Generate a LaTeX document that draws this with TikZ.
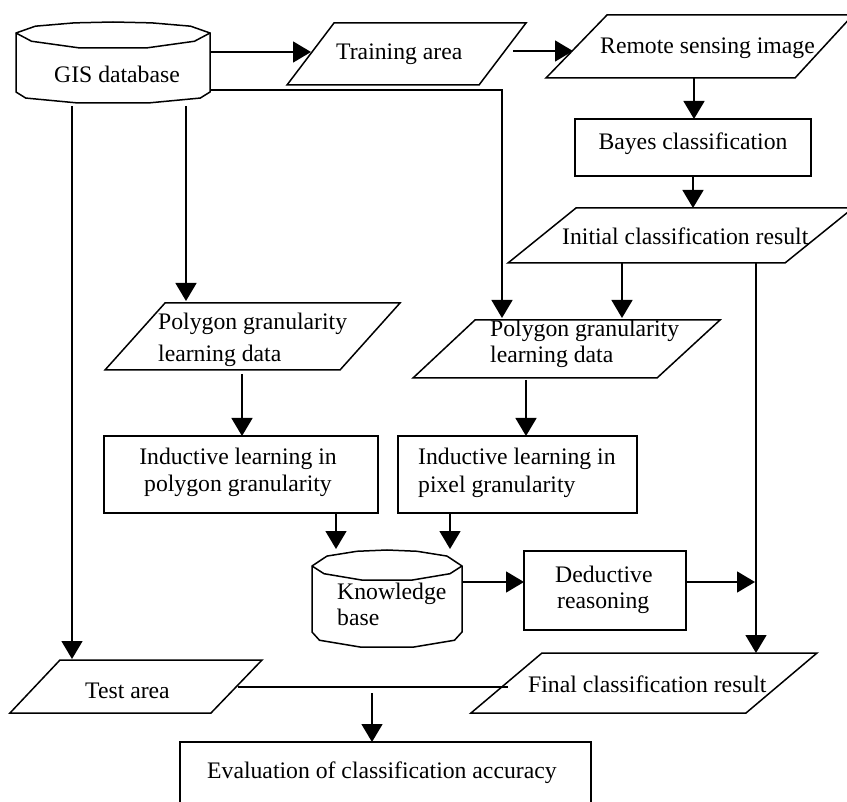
\documentclass[tikz,border=0pt]{standalone}
\usepackage{fontspec}
\setmainfont{Liberation Serif}
\usetikzlibrary{arrows.meta}
\tikzset{
  line/.style={line width=1.5pt, line join=miter},
  arr/.style={line width=1.5pt, -{Triangle[length=18pt,width=21pt]}},
  txt/.style={inner sep=0pt, anchor=base west, font=\fontsize{23.7}{28}\selectfont},
  ctxt/.style={inner sep=0pt, anchor=base, font=\fontsize{23.7}{28}\selectfont}
}
\newcommand\drawcyl[7]{%
  \pgfmathsetmacro\cylw{#2-#1}%
  \draw[line] (#1,#4) -- ({#1+0.1*\cylw},{#4-0.62*(#4-#3)}) -- ({#1+0.3*\cylw},{#4-0.92*(#4-#3)})
    -- ({#1+0.5*\cylw},#3) -- ({#1+0.7*\cylw},{#4-0.92*(#4-#3)})
    -- ({#1+0.9*\cylw},{#4-0.62*(#4-#3)}) -- (#2,#4) -- (#2,#6)
    -- ({#1+0.95*\cylw},{#6+0.55*(#7-#6)}) -- ({#1+0.68*\cylw},#7) -- ({#1+0.32*\cylw},#7)
    -- ({#1+0.05*\cylw},{#6+0.55*(#7-#6)}) -- (#1,#6) -- cycle;
  \draw[line] (#1,#4) -- ({#1+0.08*\cylw},{#4+0.55*(#5-#4)}) -- ({#1+0.33*\cylw},#5)
    -- ({#1+0.67*\cylw},#5) -- ({#1+0.92*\cylw},{#4+0.55*(#5-#4)}) -- (#2,#4);}
\begin{document}
\begin{tikzpicture}[x=1pt,y=-1pt]
\useasboundingbox (0,0) rectangle (847,802);
\clip (0,0) rectangle (847,802);

% ---- shapes ----
% GIS database cylinder
\drawcyl{16}{210}{22}{33}{48}{92}{103}
\node[ctxt] (gis) at (117,83) {GIS database};
% Training area
\draw[line] (334,23) -- (526,23) -- (479,85) -- (287,85) -- cycle;
\node[txt] (train) at (336,60) {Training area};
% Remote sensing image
\draw[line] (607,15) -- (853,15) -- (795,78) -- (546,78) -- cycle;
\node[txt] (rs) at (600,54) {Remote sensing image};
% Bayes classification
\draw[line] (575,119) rectangle (811,176);
\node[ctxt] (bayes) at (693,150) {Bayes classification};
% Initial classification result
\draw[line] (576,208) -- (853,208) -- (785,263) -- (508,263) -- cycle;
\node[txt] (init) at (562,245) {Initial classification result};
% Polygon granularity learning data (left)
\draw[line] (165,303) -- (400,303) -- (340,370) -- (105,370) -- cycle;
\node[txt] (pgl1) at (158,330) {Polygon granularity};
\node[txt] (pgl2) at (158,362) {learning data};
% Polygon granularity learning data (right)
\draw[line] (475,320) -- (720,320) -- (657,378) -- (413,378) -- cycle;
\node[txt] (pgr1) at (490,337) {Polygon granularity};
\node[txt] (pgr2) at (490,363) {learning data};
% Inductive learning in polygon granularity
\draw[line] (104,436) rectangle (378,513);
\node[ctxt] (ilp1) at (238,465) {Inductive learning in};
\node[ctxt] (ilp2) at (238,492) {polygon granularity};
% Inductive learning in pixel granularity
\draw[line] (398,436) rectangle (637,513);
\node[txt] (ilx1) at (418,465) {Inductive learning in};
\node[txt] (ilx2) at (418,493) {pixel granularity};
% Knowledge base
\drawcyl{312}{462}{550}{566}{580}{632}{647}
\node[txt] (kb1) at (337,599) {Knowledge};
\node[txt] (kb2) at (337,625) {base};
% Deductive reasoning
\draw[line] (524,551) rectangle (686,630);
\node[txt] (ded1) at (555,582) {Deductive};
\node[txt] (ded2) at (557,608) {reasoning};
% Test area
\draw[line] (60,660) -- (262,660) -- (211,713) -- (10,713) -- cycle;
\node[txt] (test) at (85,698) {Test area};
% Final classification result
\draw[line] (542,653) -- (817,653) -- (746,713) -- (471,713) -- cycle;
\node[txt] (final) at (528,692) {Final classification result};
% Evaluation
\draw[line] (180,742) rectangle (591,840);
\node[txt] (eval) at (207,778) {Evaluation of classification accuracy};

% ---- connection points ----
\coordinate (gisE1) at (210,52);
\coordinate (gisE2) at (210,90);
\coordinate (gisS1) at (72,106);
\coordinate (gisS2) at (186,106);
\coordinate (trainW) at (311,52);
\coordinate (trainE) at (513,51);
\coordinate (rsW) at (573,51);
\coordinate (rsS) at (694,78);
\coordinate (bayesN) at (694,119);
\coordinate (bayesS) at (693,176);
\coordinate (initN) at (693,208);
\coordinate (initS1) at (622,263);
\coordinate (initS2) at (756,263);
\coordinate (pgrN1) at (502,318);
\coordinate (pgrN2) at (622,318);
\coordinate (pglN) at (186,301);
\coordinate (pglS) at (242,374);
\coordinate (pgrS) at (526,380);
\coordinate (ilpN) at (242,436);
\coordinate (ilxN) at (526,436);
\coordinate (ilpS) at (336,513);
\coordinate (ilxS) at (450,513);
\coordinate (kbN1) at (336,549);
\coordinate (kbN2) at (450,549);
\coordinate (kbE) at (462,582);
\coordinate (dedW) at (524,582);
\coordinate (dedE) at (686,582);
\coordinate (vline) at (755,582);
\coordinate (finalN) at (756,653);
\coordinate (testN) at (72,659);
\coordinate (testE) at (238,687);
\coordinate (finalW) at (508,687);
\coordinate (evalStart) at (372,693);
\coordinate (evalN) at (372,742);

% ---- connectors ----
\draw[arr] (gisE1) -- (trainW);
\draw[arr] (gisE2) -| (pgrN1);
\draw[arr] (trainE) -- (rsW);
\draw[arr] (rsS) -- (bayesN);
\draw[arr] (bayesS) -- (initN);
\draw[arr] (initS1) -- (pgrN2);
\draw[arr] (initS2) -- (finalN);
\draw[arr] (gisS2) -- (pglN);
\draw[arr] (gisS1) -- (testN);
\draw[arr] (pglS) -- (ilpN);
\draw[arr] (pgrS) -- (ilxN);
\draw[arr] (ilpS) -- (kbN1);
\draw[arr] (ilxS) -- (kbN2);
\draw[arr] (kbE) -- (dedW);
\draw[arr] (dedE) -- (vline);
\draw[line] (testE) -- (finalW);
\draw[arr] (evalStart) -- (evalN);
\end{tikzpicture}
\end{document}
